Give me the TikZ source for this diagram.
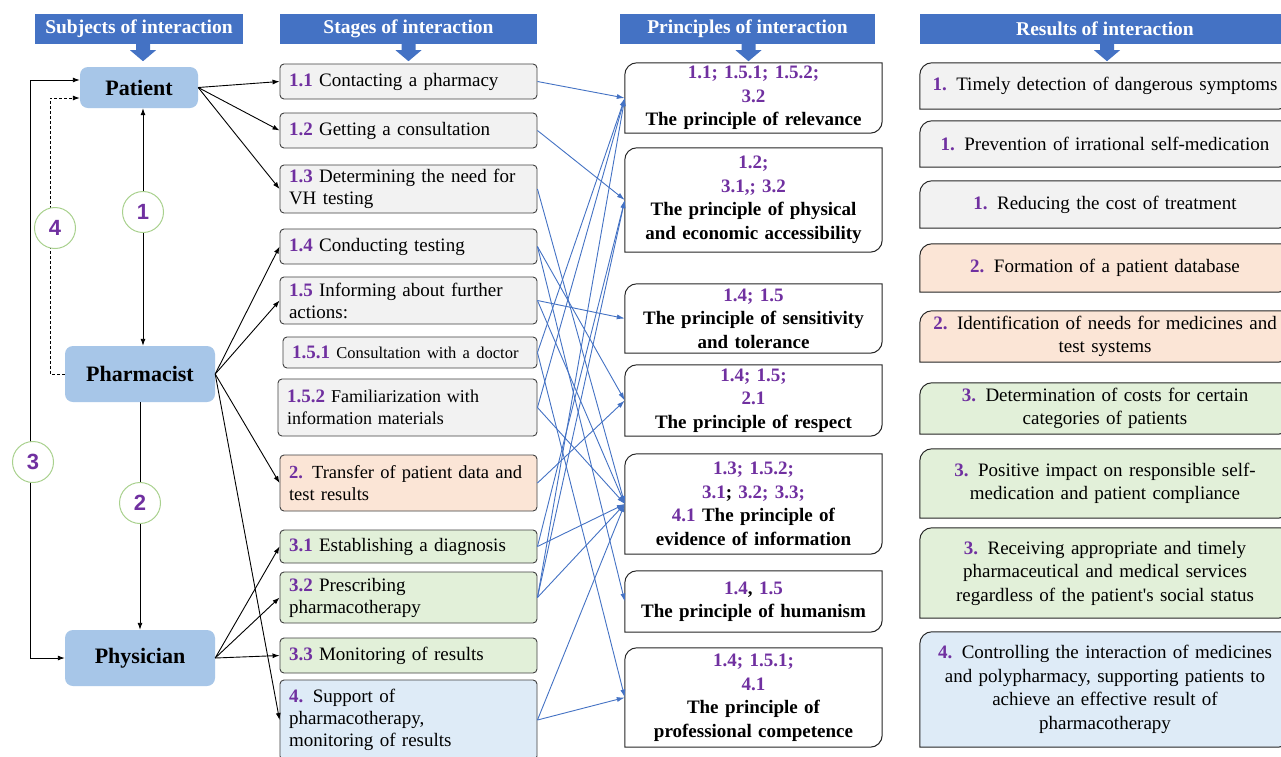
\documentclass[tikz,border=0pt]{standalone}
\usepackage{fontspec}
\setmainfont{Liberation Serif}
\newfontfamily\numfont{Liberation Sans}
\usetikzlibrary{arrows.meta,calc,backgrounds}
\definecolor{hdrblue}{HTML}{4472C4}
\definecolor{subjblue}{HTML}{A7C6E8}
\definecolor{gfill}{HTML}{F2F2F2}
\definecolor{ofill}{HTML}{FBE5D6}
\definecolor{grfill}{HTML}{E2F0D9}
\definecolor{bfill}{HTML}{DEEBF7}
\definecolor{numpurple}{HTML}{7030A0}
\definecolor{circgreen}{HTML}{A9D18E}
\definecolor{stageline}{HTML}{404040}
\definecolor{conblue}{HTML}{4472C4}
\newcommand{\pn}[1]{{\color{numpurple}\bfseries #1}}
\newcommand{\hdrarrow}[2]{\fill[hdrblue] ($(#1.south)+(#2-7,-1)$) -- ++(0,7) -- ++(-6,0) -- ++(13,11) -- ++(13,-11) -- ++(-6,0) -- ++(0,-7) -- cycle;}
\newcommand{\diagoutline}[2]{%
  \filldraw[draw=black!85, line width=1pt, fill=#2]
  ([yshift=-12pt]#1.north west) .. controls ([yshift=-5.4pt]#1.north west) and ([xshift=5.4pt]#1.north west) .. ([xshift=12pt]#1.north west)
  -- (#1.north east) -- ([yshift=12pt]#1.south east)
  .. controls ([yshift=5.4pt]#1.south east) and ([xshift=-5.4pt]#1.south east) .. ([xshift=-12pt]#1.south east)
  -- (#1.south west) -- cycle;}
\begin{document}
\begin{tikzpicture}[x=1pt,y=-1pt,
  hdr/.style={fill=hdrblue, text=white, font=\fontsize{19.5}{22}\selectfont\bfseries, minimum height=30pt, inner sep=0pt},
  subj/.style={fill=subjblue, rounded corners=8pt, font=\fontsize{22}{26}\selectfont\bfseries, inner sep=0pt},
  stg/.style={draw=stageline, line width=0.9pt, rounded corners=4pt, inner xsep=9pt, inner ysep=0pt, align=left, text width=239pt, font=\fontsize{19}{22}\selectfont},
  princ/.style={inner sep=0pt, align=center, text width=250pt, minimum width=257pt, font=\fontsize{19}{23.5}\selectfont\bfseries},
  res/.style={inner sep=0pt, align=center, text width=360pt, minimum width=370pt, font=\fontsize{19}{23.5}\selectfont},
  circ/.style={circle, draw=circgreen, line width=1pt, fill=white, minimum size=41pt, inner sep=0pt, text=numpurple, font=\numfont\fontsize{22}{22}\selectfont\bfseries},
  blk/.style={line width=0.9pt, -{Latex[length=7pt,width=5pt]}},
  bl/.style={draw=conblue, line width=0.9pt, -{Latex[length=8pt,width=5pt]}}
]
\useasboundingbox (0,0) rectangle (1281,756);

% headers
\node[hdr, minimum width=208pt] (h1) at (139,29) {Subjects of interaction};
\node[hdr, minimum width=257pt] (h2) at (408.5,29) {Stages of interaction};
\node[hdr, minimum width=255pt] (h3) at (747.5,29) {Principles of interaction};
\node[hdr, minimum width=370pt] (h4) at (1105,29) {Results of interaction};
\hdrarrow{h1}{4}
\hdrarrow{h2}{0}
\hdrarrow{h3}{1}
\hdrarrow{h4}{2}

% subjects
\node[subj, minimum width=118pt, minimum height=41pt] (patient) at (139,87.5) {Patient};
\node[subj, minimum width=150pt, minimum height=56pt] (pharm) at (140,374) {Pharmacist};
\node[subj, minimum width=150pt, minimum height=56pt] (phys) at (140,658) {Physician};

% stages
\node[stg, fill=gfill, minimum height=35pt] (s11) at (408.5,81.5) {\pn{1.1} Contacting a pharmacy};
\node[stg, fill=gfill, minimum height=35pt] (s12) at (408.5,130.5) {\pn{1.2} Getting a consultation};
\node[stg, fill=gfill, minimum height=48pt] (s13) at (408.5,189) {\pn{1.3} Determining the need for\\VH testing};
\node[stg, fill=gfill, minimum height=35pt] (s14) at (408.5,246.5) {\pn{1.4} Conducting testing};
\node[stg, fill=gfill, minimum height=47pt] (s15) at (408.5,300.5) {\pn{1.5} Informing about further\\actions:};
\node[stg, fill=gfill, minimum height=31pt, text width=236pt] (s151) at (410,352.5) {\pn{1.5.1} {\fontsize{16.5}{20}\selectfont Consultation with a doctor}};
\node[stg, fill=gfill, minimum height=57pt, text width=241pt, font=\fontsize{18}{22}\selectfont] (s152) at (407.5,407.5) {\pn{\fontsize{19}{22}\selectfont 1.5.2} Familiarization with\\information materials};
\node[stg, fill=ofill, minimum height=56pt, font=\fontsize{18.5}{22}\selectfont] (s2) at (408.5,483) {\pn{2.} Transfer of patient data and\\test results};
\node[stg, fill=grfill, minimum height=33pt] (s31) at (408.5,546.5) {\pn{3.1} Establishing a diagnosis};
\node[stg, fill=grfill, minimum height=51pt] (s32) at (408.5,597.5) {\pn{3.2} Prescribing\\pharmacotherapy};
\node[stg, fill=grfill, minimum height=35pt] (s33) at (408.5,655.5) {\pn{3.3} Monitoring of results};
\node[stg, fill=bfill, minimum height=80pt] (s4) at (408.5,720) {\pn{4.} Support of\\pharmacotherapy,\\monitoring of results};

% principles
\node[princ, minimum height=70pt] (p1) at (753.5,98) {\pn{1.1; 1.5.1; 1.5.2;}\\\pn{3.2}\\The principle of relevance};
\node[princ, minimum height=104pt] (p2) at (753.5,200) {\pn{1.2;}\\\pn{3.1,; 3.2}\\The principle of physical\\and economic accessibility};
\node[princ, minimum height=69pt] (p3) at (753.5,318.5) {\pn{1.4; 1.5}\\The principle of sensitivity\\and tolerance};
\node[princ, minimum height=71pt] (p4) at (753.5,400.5) {\pn{1.4; 1.5;}\\\pn{2.1}\\The principle of respect};
\node[princ, minimum height=100pt] (p5) at (753.5,504) {\pn{1.3; 1.5.2;}\\\pn{3.1}; \pn{3.2; 3.3;}\\\pn{4.1} The principle of\\evidence of information};
\node[princ, minimum height=61pt] (p6) at (753.5,601.5) {\pn{1.4}, \pn{1.5}\\The principle of humanism};
\node[princ, minimum height=99pt] (p7) at (753.5,697.5) {\pn{1.4; 1.5.1;}\\\pn{4.1}\\The principle of\\professional competence};

% results
\node[res, minimum height=46pt] (r1) at (1105,86) {\pn{1.} Timely detection of dangerous symptoms};
\node[res, minimum height=46pt] (r2) at (1105,144) {\pn{1.} Prevention of irrational self-medication};
\node[res, minimum height=47pt] (r3) at (1105,204.5) {\pn{1.} Reducing the cost of treatment};
\node[res, minimum height=48pt] (r4) at (1105,268) {\pn{2.} Formation of a patient database};
\node[res, minimum height=51pt] (r5) at (1105,336.5) {\pn{2.} Identification of needs for medicines and\\test systems};
\node[res, minimum height=51pt] (r6) at (1105,408.5) {\pn{3.} Determination of costs for certain\\categories of patients};
\node[res, minimum height=69pt] (r7) at (1105,483.5) {\pn{3.} Positive impact on responsible self-\\medication and patient compliance};
\node[res, minimum height=90pt] (r8) at (1105,573) {\pn{3.} Receiving appropriate and timely\\pharmaceutical and medical services\\regardless of the patient\textquotesingle s social status};
\node[res, minimum height=115pt] (r9) at (1105,689.5) {\pn{4.} Controlling the interaction of medicines\\and polypharmacy, supporting patients to\\achieve an effective result of\\pharmacotherapy};

\begin{scope}[on background layer]
\fill[white] (0,0) rectangle (1281,756);
\foreach \n in {p1,p2,p3,p4,p5,p6,p7} {\diagoutline{\n}{white}}
\foreach \n in {r1,r2,r3} {\diagoutline{\n}{gfill}}
\foreach \n in {r4,r5} {\diagoutline{\n}{ofill}}
\foreach \n in {r6,r7,r8} {\diagoutline{\n}{grfill}}
\diagoutline{r9}{bfill}
\end{scope}

% subject links
\coordinate (l3) at (30,80);
\coordinate (l4) at (50,98);
\draw[line width=0.9pt, {Latex[length=7pt,width=5pt]}-{Latex[length=7pt,width=5pt]}] (phys.west) -- (phys.west -| l3) -- (l3) -- (l3 -| patient.west);
\draw[line width=0.9pt, dash pattern=on 3pt off 2pt, -{Latex[length=7pt,width=5pt]}] (pharm.west) -- (pharm.west -| l4) -- (l4) -- (l4 -| patient.west);
\node[circ] (c1) at (143,212) {1};
\node[circ] (c2) at (140,503) {2};
\node[circ] (c3) at (33,462) {3};
\node[circ] (c4) at (55,228) {4};
\draw[blk] (c1.north) -- (c1.north |- patient.south);
\draw[blk] (c1.south) -- (c1.south |- pharm.north);
\draw[line width=0.9pt] (pharm.south -| c2.north) -- (c2.north);
\draw[blk] (c2.south) -- (c2.south |- phys.north);

% subject -> stage
\foreach \t in {s11,s12,s13} \draw[blk] (patient.east) -- (\t.west);
\foreach \t in {s14,s15,s2,s4} \draw[blk] (pharm.east) -- (\t.west);
\foreach \t in {s31,s32,s33} \draw[blk] (phys.east) -- (\t.west);

% stage -> principle
\foreach \a/\b in {s11/p1, s12/p2, s13/p5, s14/p6, s14/p4, s15/p3, s15/p5, s151/p1, s151/p7, s152/p1, s152/p5, s2/p4, s31/p5, s31/p2, s32/p1, s32/p2, s32/p5, s4/p5, s4/p7}
  \draw[bl] (\a.east) -- (\b.west);
\end{tikzpicture}
\end{document}
